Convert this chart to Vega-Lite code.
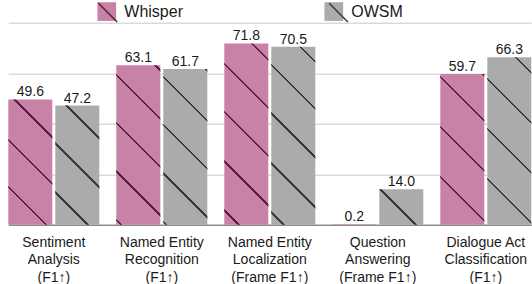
{
  "$schema": "https://vega.github.io/schema/vega-lite/v6.json",
  "width": 525,
  "height": 202,
  "autosize": {"type": "none"},
  "padding": {"left": 7, "top": 22.7, "right": 0, "bottom": 59.3},
  "background": "white",
  "config": {"view": {"stroke": null}, "font": "Liberation Sans"},
  "data": {
    "values": [
      {"task": "Sentiment\nAnalysis\n(F1↑)", "model": "Whisper", "value": 49.6},
      {"task": "Sentiment\nAnalysis\n(F1↑)", "model": "OWSM", "value": 47.2},
      {"task": "Named Entity\nRecognition\n(F1↑)", "model": "Whisper", "value": 63.1},
      {"task": "Named Entity\nRecognition\n(F1↑)", "model": "OWSM", "value": 61.7},
      {"task": "Named Entity\nLocalization\n(Frame F1↑)", "model": "Whisper", "value": 71.8},
      {"task": "Named Entity\nLocalization\n(Frame F1↑)", "model": "OWSM", "value": 70.5},
      {"task": "Question\nAnswering\n(Frame F1↑)", "model": "Whisper", "value": 0.2},
      {"task": "Question\nAnswering\n(Frame F1↑)", "model": "OWSM", "value": 14.0},
      {"task": "Dialogue Act\nClassification\n(F1↑)", "model": "Whisper", "value": 59.7},
      {"task": "Dialogue Act\nClassification\n(F1↑)", "model": "OWSM", "value": 66.3}
    ]
  },
  "encoding": {
    "x": {
      "field": "task", "type": "nominal", "sort": null,
      "scale": {"range": [1.3, 524.3], "paddingInner": 0.1574, "paddingOuter": 0},
      "axis": {
        "title": null, "labelAngle": 0, "ticks": false, "grid": false,
        "domainColor": "#555555", "domainWidth": 1,
        "labelFontSize": 14, "labelFont": "Liberation Sans", "labelColor": "#1a1a1a",
        "labelLineHeight": 17.5, "labelPadding": 10.5, "labelBaseline": "top", "labelLimit": 0,
        "labelExpr": "split(datum.label, '\\n')"
      }
    },
    "xOffset": {
      "field": "model", "type": "nominal",
      "scale": {"domain": ["Whisper", "OWSM"], "paddingInner": 0.0638, "paddingOuter": 0}
    },
    "y": {
      "field": "value", "type": "quantitative",
      "scale": {"domain": [0, 80], "nice": false},
      "axis": {"title": null, "labels": false, "ticks": false, "domain": false, "grid": true, "values": [20, 40, 60, 80], "gridColor": "#c8c8c8", "gridWidth": 1}
    }
  },
  "layer": [
    {
      "mark": {"type": "bar"},
      "encoding": {
        "fill": {
          "field": "model", "type": "nominal",
          "scale": {"domain": ["Whisper", "OWSM"], "range": ["#c882a7", "#ababab"]},
          "legend": {
            "title": null, "orient": "none", "legendX": 90.3, "legendY": -20.7, "direction": "horizontal",
            "symbolType": "square", "symbolSize": 350, "symbolStrokeWidth": 0,
            "labelFontSize": 16, "labelFont": "Liberation Sans", "labelColor": "#1a1a1a",
            "labelOffset": 8, "columnPadding": 141, "padding": 0
          }
        }
      }
    },
    {
      "mark": {"type": "bar", "strokeWidth": 0},
      "encoding": {
        "stroke": {
          "field": "model", "type": "nominal", "sort": "descending",
          "scale": {"range": ["#5c1b40", "#383838"]},
          "legend": {
            "title": null, "orient": "none", "legendX": 90.3, "legendY": -20.7, "direction": "horizontal",
            "symbolType": "M-1,-1L1,1", "symbolSize": 350, "symbolStrokeWidth": 1.5,
            "labelFontSize": 16, "labelFont": "Liberation Sans", "labelExpr": "''",
            "labelOffset": 8, "columnPadding": 199.7, "padding": 0,
            "encode": {"symbols": {"update": {"strokeWidth": {"value": 1.5}, "fill": {"value": "transparent"}, "opacity": {"value": 1}}}}
          }
        },
        "fill": {
          "condition": [
            {"test": "datum.value == 49.6", "value": {"gradient": "linear", "x1": 0, "y1": 1, "x2": 0.4226, "y2": -0.2029, "stops": [
              {"offset": 0, "color": "rgba(0,0,0,0)"},
              {"offset": 0.2186, "color": "rgba(0,0,0,0)"}, {"offset": 0.2186, "color": "#5c1b40"}, {"offset": 0.2316, "color": "#5c1b40"}, {"offset": 0.2316, "color": "rgba(0,0,0,0)"},
              {"offset": 0.4940, "color": "rgba(0,0,0,0)"}, {"offset": 0.4940, "color": "#5c1b40"}, {"offset": 0.5070, "color": "#5c1b40"}, {"offset": 0.5070, "color": "rgba(0,0,0,0)"},
              {"offset": 0.7699, "color": "rgba(0,0,0,0)"}, {"offset": 0.7699, "color": "#5c1b40"}, {"offset": 0.7829, "color": "#5c1b40"}, {"offset": 0.7829, "color": "rgba(0,0,0,0)"},
              {"offset": 1, "color": "rgba(0,0,0,0)"}]}},
            {"test": "datum.value == 47.2", "value": {"gradient": "linear", "x1": 0, "y1": 1, "x2": 0.4448, "y2": -0.2049, "stops": [
              {"offset": 0, "color": "rgba(0,0,0,0)"},
              {"offset": 0.1919, "color": "rgba(0,0,0,0)"}, {"offset": 0.1919, "color": "#383838"}, {"offset": 0.2053, "color": "#383838"}, {"offset": 0.2053, "color": "rgba(0,0,0,0)"},
              {"offset": 0.4921, "color": "rgba(0,0,0,0)"}, {"offset": 0.4921, "color": "#383838"}, {"offset": 0.5055, "color": "#383838"}, {"offset": 0.5055, "color": "rgba(0,0,0,0)"},
              {"offset": 0.7923, "color": "rgba(0,0,0,0)"}, {"offset": 0.7923, "color": "#383838"}, {"offset": 0.8057, "color": "#383838"}, {"offset": 0.8057, "color": "rgba(0,0,0,0)"},
              {"offset": 1, "color": "rgba(0,0,0,0)"}]}},
            {"test": "datum.value == 63.1", "value": {"gradient": "linear", "x1": 0, "y1": 1, "x2": 0.3274, "y2": -0.1857, "stops": [
              {"offset": 0, "color": "rgba(0,0,0,0)"},
              {"offset": 0.0197, "color": "rgba(0,0,0,0)"}, {"offset": 0.0197, "color": "#5c1b40"}, {"offset": 0.0305, "color": "#5c1b40"}, {"offset": 0.0305, "color": "rgba(0,0,0,0)"},
              {"offset": 0.2572, "color": "rgba(0,0,0,0)"}, {"offset": 0.2572, "color": "#5c1b40"}, {"offset": 0.2680, "color": "#5c1b40"}, {"offset": 0.2680, "color": "rgba(0,0,0,0)"},
              {"offset": 0.4948, "color": "rgba(0,0,0,0)"}, {"offset": 0.4948, "color": "#5c1b40"}, {"offset": 0.5056, "color": "#5c1b40"}, {"offset": 0.5056, "color": "rgba(0,0,0,0)"},
              {"offset": 0.7328, "color": "rgba(0,0,0,0)"}, {"offset": 0.7328, "color": "#5c1b40"}, {"offset": 0.7436, "color": "#5c1b40"}, {"offset": 0.7436, "color": "rgba(0,0,0,0)"},
              {"offset": 0.9704, "color": "rgba(0,0,0,0)"}, {"offset": 0.9704, "color": "#5c1b40"}, {"offset": 0.9812, "color": "#5c1b40"}, {"offset": 0.9812, "color": "rgba(0,0,0,0)"},
              {"offset": 1, "color": "rgba(0,0,0,0)"}]}},
            {"test": "datum.value == 61.7", "value": {"gradient": "linear", "x1": 0, "y1": 1, "x2": 0.3354, "y2": -0.1877, "stops": [
              {"offset": 0, "color": "rgba(0,0,0,0)"},
              {"offset": 0.0100, "color": "rgba(0,0,0,0)"}, {"offset": 0.0100, "color": "#383838"}, {"offset": 0.0210, "color": "#383838"}, {"offset": 0.0210, "color": "rgba(0,0,0,0)"},
              {"offset": 0.2518, "color": "rgba(0,0,0,0)"}, {"offset": 0.2518, "color": "#383838"}, {"offset": 0.2628, "color": "#383838"}, {"offset": 0.2628, "color": "rgba(0,0,0,0)"},
              {"offset": 0.4935, "color": "rgba(0,0,0,0)"}, {"offset": 0.4935, "color": "#383838"}, {"offset": 0.5045, "color": "#383838"}, {"offset": 0.5045, "color": "rgba(0,0,0,0)"},
              {"offset": 0.7353, "color": "rgba(0,0,0,0)"}, {"offset": 0.7353, "color": "#383838"}, {"offset": 0.7463, "color": "#383838"}, {"offset": 0.7463, "color": "rgba(0,0,0,0)"},
              {"offset": 0.9860, "color": "rgba(0,0,0,0)"}, {"offset": 0.9860, "color": "#383838"}, {"offset": 0.9970, "color": "#383838"}, {"offset": 0.9970, "color": "rgba(0,0,0,0)"},
              {"offset": 1, "color": "rgba(0,0,0,0)"}]}},
            {"test": "datum.value == 71.8", "value": {"gradient": "linear", "x1": 0, "y1": 1, "x2": 0.2848, "y2": -0.1736, "stops": [
              {"offset": 0, "color": "rgba(0,0,0,0)"},
              {"offset": 0.0590, "color": "rgba(0,0,0,0)"}, {"offset": 0.0590, "color": "#5c1b40"}, {"offset": 0.0688, "color": "#5c1b40"}, {"offset": 0.0688, "color": "rgba(0,0,0,0)"},
              {"offset": 0.2765, "color": "rgba(0,0,0,0)"}, {"offset": 0.2765, "color": "#5c1b40"}, {"offset": 0.2863, "color": "#5c1b40"}, {"offset": 0.2863, "color": "rgba(0,0,0,0)"},
              {"offset": 0.4962, "color": "rgba(0,0,0,0)"}, {"offset": 0.4962, "color": "#5c1b40"}, {"offset": 0.5060, "color": "#5c1b40"}, {"offset": 0.5060, "color": "rgba(0,0,0,0)"},
              {"offset": 0.7093, "color": "rgba(0,0,0,0)"}, {"offset": 0.7093, "color": "#5c1b40"}, {"offset": 0.7191, "color": "#5c1b40"}, {"offset": 0.7191, "color": "rgba(0,0,0,0)"},
              {"offset": 0.9223, "color": "rgba(0,0,0,0)"}, {"offset": 0.9223, "color": "#5c1b40"}, {"offset": 0.9321, "color": "#5c1b40"}, {"offset": 0.9321, "color": "rgba(0,0,0,0)"},
              {"offset": 1, "color": "rgba(0,0,0,0)"}]}},
            {"test": "datum.value == 70.5", "value": {"gradient": "linear", "x1": 0, "y1": 1, "x2": 0.2905, "y2": -0.1754, "stops": [
              {"offset": 0, "color": "rgba(0,0,0,0)"},
              {"offset": 0.0509, "color": "rgba(0,0,0,0)"}, {"offset": 0.0509, "color": "#383838"}, {"offset": 0.0609, "color": "#383838"}, {"offset": 0.0609, "color": "rgba(0,0,0,0)"},
              {"offset": 0.2716, "color": "rgba(0,0,0,0)"}, {"offset": 0.2716, "color": "#383838"}, {"offset": 0.2816, "color": "#383838"}, {"offset": 0.2816, "color": "rgba(0,0,0,0)"},
              {"offset": 0.4968, "color": "rgba(0,0,0,0)"}, {"offset": 0.4968, "color": "#383838"}, {"offset": 0.5068, "color": "#383838"}, {"offset": 0.5068, "color": "rgba(0,0,0,0)"},
              {"offset": 0.7161, "color": "rgba(0,0,0,0)"}, {"offset": 0.7161, "color": "#383838"}, {"offset": 0.7261, "color": "#383838"}, {"offset": 0.7261, "color": "rgba(0,0,0,0)"},
              {"offset": 0.9260, "color": "rgba(0,0,0,0)"}, {"offset": 0.9260, "color": "#383838"}, {"offset": 0.9360, "color": "#383838"}, {"offset": 0.9360, "color": "rgba(0,0,0,0)"},
              {"offset": 1, "color": "rgba(0,0,0,0)"}]}},
            {"test": "datum.value == 14", "value": {"gradient": "linear", "x1": 0, "y1": 1, "x2": 1.0960, "y2": 0.1195, "stops": [
              {"offset": 0, "color": "rgba(0,0,0,0)"},
              {"offset": 0.4448, "color": "rgba(0,0,0,0)"}, {"offset": 0.4448, "color": "#383838"}, {"offset": 0.4726, "color": "#383838"}, {"offset": 0.4726, "color": "rgba(0,0,0,0)"},
              {"offset": 1, "color": "rgba(0,0,0,0)"}]}},
            {"test": "datum.value == 59.7", "value": {"gradient": "linear", "x1": 0, "y1": 1, "x2": 0.3475, "y2": -0.1904, "stops": [
              {"offset": 0, "color": "rgba(0,0,0,0)"},
              {"offset": 0.2393, "color": "rgba(0,0,0,0)"}, {"offset": 0.2393, "color": "#5c1b40"}, {"offset": 0.2505, "color": "#5c1b40"}, {"offset": 0.2505, "color": "rgba(0,0,0,0)"},
              {"offset": 0.4961, "color": "rgba(0,0,0,0)"}, {"offset": 0.4961, "color": "#5c1b40"}, {"offset": 0.5073, "color": "#5c1b40"}, {"offset": 0.5073, "color": "rgba(0,0,0,0)"},
              {"offset": 0.7529, "color": "rgba(0,0,0,0)"}, {"offset": 0.7529, "color": "#5c1b40"}, {"offset": 0.7641, "color": "#5c1b40"}, {"offset": 0.7641, "color": "rgba(0,0,0,0)"},
              {"offset": 0.9875, "color": "rgba(0,0,0,0)"}, {"offset": 0.9875, "color": "#5c1b40"}, {"offset": 0.9987, "color": "#5c1b40"}, {"offset": 0.9987, "color": "rgba(0,0,0,0)"},
              {"offset": 1, "color": "rgba(0,0,0,0)"}]}},
            {"test": "datum.value == 66.3", "value": {"gradient": "linear", "x1": 0, "y1": 1, "x2": 0.3105, "y2": -0.1812, "stops": [
              {"offset": 0, "color": "rgba(0,0,0,0)"},
              {"offset": 0.2129, "color": "rgba(0,0,0,0)"}, {"offset": 0.2129, "color": "#383838"}, {"offset": 0.2233, "color": "#383838"}, {"offset": 0.2233, "color": "rgba(0,0,0,0)"},
              {"offset": 0.4494, "color": "rgba(0,0,0,0)"}, {"offset": 0.4494, "color": "#383838"}, {"offset": 0.4598, "color": "#383838"}, {"offset": 0.4598, "color": "rgba(0,0,0,0)"},
              {"offset": 0.6859, "color": "rgba(0,0,0,0)"}, {"offset": 0.6859, "color": "#383838"}, {"offset": 0.6963, "color": "#383838"}, {"offset": 0.6963, "color": "rgba(0,0,0,0)"},
              {"offset": 0.9224, "color": "rgba(0,0,0,0)"}, {"offset": 0.9224, "color": "#383838"}, {"offset": 0.9328, "color": "#383838"}, {"offset": 0.9328, "color": "rgba(0,0,0,0)"},
              {"offset": 1, "color": "rgba(0,0,0,0)"}]}}
          ],
          "value": "transparent"
        }
      }
    },
    {
      "mark": {"type": "text", "baseline": "alphabetic", "dy": -3, "fontSize": 14, "font": "Liberation Sans", "color": "#1a1a1a"},
      "encoding": {"text": {"field": "value", "type": "quantitative", "format": ".1f"}}
    }
  ]
}
